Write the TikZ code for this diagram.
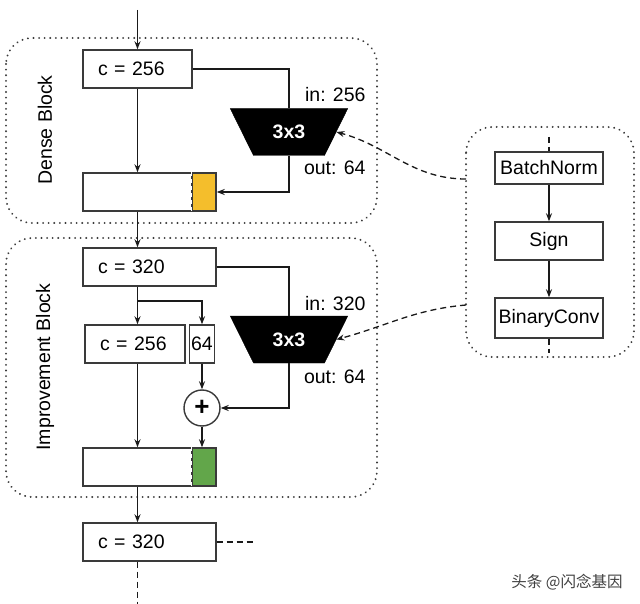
\documentclass[tikz,border=0pt]{standalone}
\usepackage{fontspec}
\setmainfont{Liberation Sans}
\newfontfamily\cjk{Noto Sans CJK SC}
\usetikzlibrary{arrows.meta,shapes.geometric}
\definecolor{lc}{HTML}{1A1A1A}
\definecolor{bc}{HTML}{3A3A3A}
\definecolor{ylw}{HTML}{F4BE2C}
\definecolor{grn}{HTML}{62A64A}
\tikzset{
  x=1pt, y=1pt,
  every node/.style={font=\fontsize{19.5}{22}\selectfont, text=black},
  box/.style={draw=bc, line width=1.4pt, fill=white, inner sep=0pt},
  lbox/.style={box, align=left, inner xsep=15pt},
  conn/.style={draw=lc, line width=1.5pt},
  arr/.style={conn, -{Stealth[length=8pt,width=6pt]}},
  dcurve/.style={draw=lc, line width=1.3pt, dash pattern=on 6pt off 4pt, -{Stealth[length=8pt,width=6pt]}},
  dline/.style={draw=lc, line width=1.5pt, dash pattern=on 6pt off 4pt},
  blockfr/.style={draw=bc, line width=2pt, dash pattern=on 0.1pt off 5.5pt, line cap=round, rounded corners=26pt},
  trap/.style={trapezium, shape border rotate=180, trapezium angle=52.4, trapezium stretches=true,
     minimum width=118pt, minimum height=47pt, fill=black, draw=black, inner sep=0pt,
     text=white, font=\fontsize{19.5}{22}\selectfont\bfseries},
  side/.style={rotate=90},
  plus/.style={circle, draw=bc, line width=1.4pt, fill=white, minimum size=36pt, inner sep=0pt, font=\fontsize{26}{28}\selectfont\bfseries},
}
\begin{document}
\begin{tikzpicture}
\useasboundingbox (0,0) rectangle (640,-604);
\fill[white] (0,0) rectangle (640,-604);

% block frames
\draw[blockfr] (6,-38) rectangle (377,-223);
\draw[blockfr] (6,-238) rectangle (377,-497);
\draw[blockfr] (466,-127) rectangle (634,-357);

\node[side] (dlab) at (45,-130) {Dense Block};
\node[side] (ilab) at (45,-367) {Improvement Block};

% ---- Dense block
\coordinate (top) at (137.5,-10);
\node[lbox, text width=79pt, minimum height=38pt] (c1) at (137.5,-69) {c = 256};
\node[box, minimum width=133pt, minimum height=38pt] (d1) at (149.5,-192) {};
\node[box, fill=ylw, minimum width=24pt, minimum height=38pt] (y1) at (204,-192) {};
\draw[white, line width=1.4pt, dash pattern=on 4pt off 3pt] (y1.north west) -- (y1.south west);
\node[trap] (t1) at (289,-132) {3x3};
\node[anchor=east] (in1) at (369,-95) {in: 256};
\node[anchor=east] (out1) at (369,-168) {out: 64};

\draw[arr] (top) -- (c1.north);
\draw[arr] (c1.south) -- (c1.south |- d1.north);
\draw[conn] (c1.east) -| (t1.north);
\draw[arr] (t1.south) |- (y1.east);

% ---- Improvement block
\node[lbox, text width=103pt, minimum height=38pt] (c2) at (149.5,-267) {c = 320};
\draw[arr] (c1.south |- d1.south) -- (c1.south |- c2.north);
\node[lbox, text width=70pt, minimum height=38pt] (c3) at (135,-344) {c = 256};
\node[box, minimum width=25pt, minimum height=38pt] (b64) at (202,-344) {64};
\node[plus] (p) at (202,-408) {+};
\node[box, minimum width=133pt, minimum height=38pt] (g1) at (149.5,-467) {};
\node[box, fill=grn, minimum width=24pt, minimum height=38pt] (g2) at (204,-467) {};
\draw[white, line width=1.4pt, dash pattern=on 4pt off 3pt] (g2.north west) -- (g2.south west);
\node[trap] (t2) at (289,-339.5) {3x3};
\node[anchor=east] (in2) at (369,-304) {in: 320};
\node[anchor=east] (out2) at (369,-377) {out: 64};

\coordinate (br) at (137.5,-301);
\draw[arr] (c1.south |- c2.south) -- (c1.south |- c3.north);
\draw[arr] (br) -| (b64.north);
\draw[conn] (c2.east) -| (t2.north);
\draw[arr] (b64.south) -- (p.north);
\draw[arr] (t2.south) |- (p.east);
\draw[arr] (p.south) -- (p.south |- g2.north);
\draw[arr] (c1.south |- c3.south) -- (c1.south |- g1.north);

% ---- after
\node[lbox, text width=103pt, minimum height=38pt] (c4) at (149.5,-542) {c = 320};
\draw[arr] (c1.south |- g1.south) -- (c1.south |- c4.north);
\coordinate (e1) at (256,-542);
\coordinate (e2) at (137.5,-604);
\draw[dline] (c4.east) -- (e1);
\draw[dline] (c1.south |- c4.south) -- (e2);

% ---- right panel
\node[box, minimum width=108pt, minimum height=32pt] (bn) at (549,-168) {BatchNorm};
\node[box, minimum width=108pt, minimum height=38pt] (sg) at (549,-241) {Sign};
\node[box, minimum width=108pt, minimum height=40pt] (bc) at (549,-318) {BinaryConv};
\coordinate (rt) at (549,-137);
\coordinate (rb) at (549,-353);
\draw[dline] (rt) -- (bn.north);
\draw[arr] (bn.south) -- (sg.north);
\draw[arr] (sg.south) -- (bc.north);
\draw[dline] (bc.south) -- (rb);

\coordinate (f1) at (466,-179);
\coordinate (f2) at (466,-305);
\draw[dcurve] (f1) to[out=180, in=-15] (t1.east);
\draw[dcurve] (f2) to[out=185, in=15] (t2.east);

% watermark
\node[text=black!75, font=\cjk\fontsize{15.5}{17}\selectfont] (wm) at (567,-582) {头条 @闪念基因};
\end{tikzpicture}
\end{document}
